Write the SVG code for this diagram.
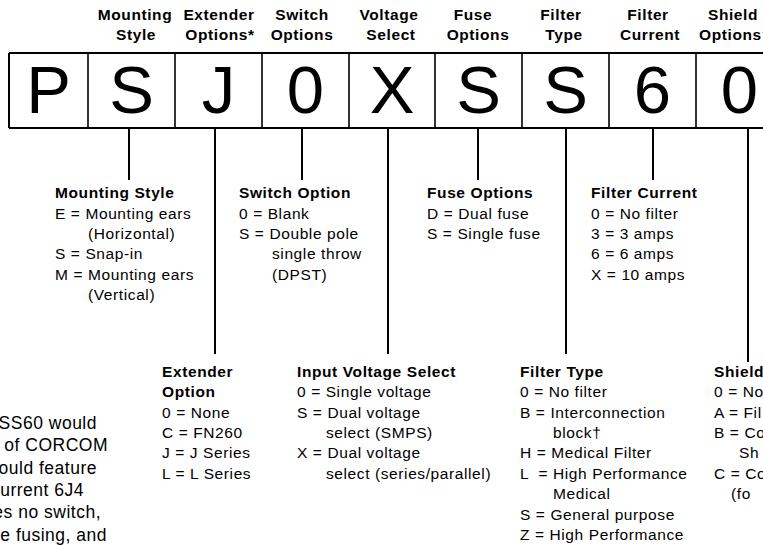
<svg xmlns="http://www.w3.org/2000/svg" width="763" height="546" viewBox="0 0 763 546">
<style>
text{font-family:"Liberation Sans",Arial,sans-serif;fill:#000}
.hd{font-size:15.5px;font-weight:bold;letter-spacing:0.6px;text-anchor:middle}
.big{font-size:67px;text-anchor:middle}
.t{font-size:15.5px;letter-spacing:0.6px}
.b{font-weight:bold}
.p{font-size:17.5px;letter-spacing:0.5px;text-anchor:end}
.ln{stroke:#000;stroke-width:2;fill:none}
.dv{stroke:#000;stroke-width:1.6}
</style>
<rect width="763" height="546" fill="#fff"/>
<g id="headers">
<text class="hd" x="135" y="19.5">Mounting</text><text class="hd" x="136" y="39.5">Style</text>
<text class="hd" x="219" y="19.5">Extender</text><text class="hd" x="220" y="39.5">Options*</text>
<text class="hd" x="302" y="19.5">Switch</text><text class="hd" x="302" y="39.5">Options</text>
<text class="hd" x="389" y="19.5">Voltage</text><text class="hd" x="391" y="39.5">Select</text>
<text class="hd" x="473" y="19.5">Fuse</text><text class="hd" x="478" y="39.5">Options</text>
<text class="hd" x="561" y="19.5">Filter</text><text class="hd" x="564" y="39.5">Type</text>
<text class="hd" x="648" y="19.5">Filter</text><text class="hd" x="650" y="39.5">Current</text>
<text class="hd" x="733" y="19.5">Shield</text><text class="hd" x="735" y="39.5">Options†</text>
</g>
<g id="code-row">
<line class="ln" x1="9" y1="53" x2="763" y2="53"/>
<line class="ln" x1="9" y1="128" x2="763" y2="128"/>
<line class="ln" x1="9" y1="53" x2="9" y2="128"/>
<line class="dv" x1="88" y1="53" x2="88" y2="128"/>
<line class="dv" x1="175" y1="53" x2="175" y2="128"/>
<line class="dv" x1="262" y1="53" x2="262" y2="128"/>
<line class="dv" x1="349" y1="53" x2="349" y2="128"/>
<line class="dv" x1="435" y1="53" x2="435" y2="128"/>
<line class="dv" x1="522" y1="53" x2="522" y2="128"/>
<line class="dv" x1="609" y1="53" x2="609" y2="128"/>
<line class="dv" x1="696" y1="53" x2="696" y2="128"/>
<text class="big" x="48.5" y="113">P</text>
<text class="big" x="131.5" y="113">S</text>
<text class="big" x="218.5" y="113">J</text>
<text class="big" x="305.5" y="113">0</text>
<text class="big" x="392" y="113">X</text>
<text class="big" x="478.5" y="113">S</text>
<text class="big" x="565.5" y="113">S</text>
<text class="big" x="652.5" y="113">6</text>
<text class="big" x="739.5" y="113">0</text>
</g>
<g id="connectors">
<line class="ln" x1="129" y1="128" x2="129" y2="180"/>
<line class="ln" x1="215" y1="128" x2="215" y2="354"/>
<line class="ln" x1="302" y1="128" x2="302" y2="180"/>
<line class="ln" x1="388" y1="128" x2="388" y2="354"/>
<line class="ln" x1="478" y1="128" x2="478" y2="180"/>
<line class="ln" x1="566" y1="128" x2="566" y2="354"/>
<line class="ln" x1="653" y1="128" x2="653" y2="180"/>
<line class="ln" x1="748" y1="128" x2="748" y2="362"/>
</g>
<g id="mounting-style">
<text class="t b" x="55" y="198">Mounting Style</text>
<text class="t" x="55" y="219">E = Mounting ears</text>
<text class="t" x="88" y="239">(Horizontal)</text>
<text class="t" x="55" y="259">S = Snap-in</text>
<text class="t" x="55" y="280">M = Mounting ears</text>
<text class="t" x="88" y="300">(Vertical)</text>
</g>
<g id="switch-option">
<text class="t b" x="239" y="198">Switch Option</text>
<text class="t" x="239" y="219">0 = Blank</text>
<text class="t" x="239" y="239">S = Double pole</text>
<text class="t" x="272" y="259">single throw</text>
<text class="t" x="272" y="280">(DPST)</text>
</g>
<g id="fuse-options">
<text class="t b" x="427" y="198">Fuse Options</text>
<text class="t" x="427" y="219">D = Dual fuse</text>
<text class="t" x="427" y="239">S = Single fuse</text>
</g>
<g id="filter-current">
<text class="t b" x="591" y="198">Filter Current</text>
<text class="t" x="591" y="219">0 = No filter</text>
<text class="t" x="591" y="239">3 = 3 amps</text>
<text class="t" x="591" y="259">6 = 6 amps</text>
<text class="t" x="591" y="280">X = 10 amps</text>
</g>
<g id="extender-option">
<text class="t b" x="162" y="377">Extender</text>
<text class="t b" x="162" y="397">Option</text>
<text class="t" x="162" y="418">0 = None</text>
<text class="t" x="162" y="438">C = FN260</text>
<text class="t" x="162" y="458">J = J Series</text>
<text class="t" x="162" y="479">L = L Series</text>
</g>
<g id="input-voltage-select">
<text class="t b" x="297" y="377">Input Voltage Select</text>
<text class="t" x="297" y="397">0 = Single voltage</text>
<text class="t" x="297" y="418">S = Dual voltage</text>
<text class="t" x="326" y="438">select (SMPS)</text>
<text class="t" x="297" y="458">X = Dual voltage</text>
<text class="t" x="326" y="479">select (series/parallel)</text>
</g>
<g id="filter-type">
<text class="t b" x="520" y="377">Filter Type</text>
<text class="t" x="520" y="397">0 = No filter</text>
<text class="t" x="520" y="418">B = Interconnection</text>
<text class="t" x="553" y="438">block†</text>
<text class="t" x="520" y="458">H = Medical Filter</text>
<text class="t" x="520" y="479" xml:space="preserve">L  = High Performance</text>
<text class="t" x="553" y="499">Medical</text>
<text class="t" x="520" y="520">S = General purpose</text>
<text class="t" x="520" y="540">Z = High Performance</text>
</g>
<g id="shield-options">
<text class="t b" x="714" y="377">Shield</text>
<text class="t" x="714" y="397">0 = No</text>
<text class="t" x="714" y="418">A = Fil</text>
<text class="t" x="714" y="438">B = Co</text>
<text class="t" x="739" y="458">Sh</text>
<text class="t" x="714" y="479">C = Co</text>
<text class="t" x="731" y="499">(fo</text>
</g>
<g id="example-note">
<text class="p" x="97" y="429">SS60 would</text>
<text class="p" x="108" y="451">of CORCOM</text>
<text class="p" x="97" y="474">ould feature</text>
<text class="p" x="84" y="496">current 6J4</text>
<text class="p" x="101" y="518">es no switch,</text>
<text class="p" x="107" y="541">e fusing, and</text>
</g>
</svg>
